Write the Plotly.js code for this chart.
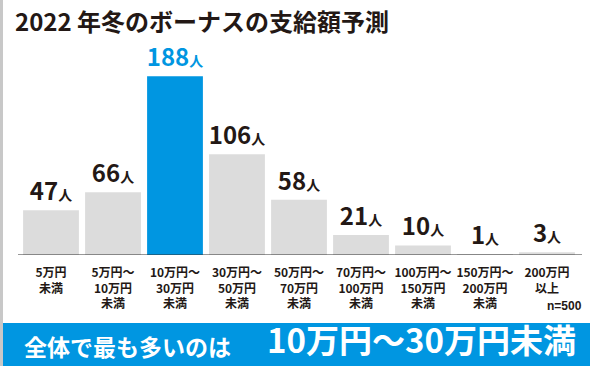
<!DOCTYPE html>
<html>
<head>
<meta charset="utf-8">
<script src="https://cdn.plot.ly/plotly-3.0.1.min.js"></script>
<style>
  html, body { margin: 0; padding: 0; background: #ffffff; }
  #chart { width: 590px; height: 366px; }
</style>
</head>
<body>
<div id="chart"></div>
<script>
// ---- data ----
const categories = ["5万円未満", "5万円～10万円未満", "10万円～30万円未満", "30万円～50万円未満",
  "50万円～70万円未満", "70万円～100万円未満", "100万円～150万円未満", "150万円～200万円未満", "200万円以上"];
const tickLabels = ["5万円<br>未満", "5万円～<br>10万円<br>未満", "10万円～<br>30万円<br>未満",
  "30万円～<br>50万円<br>未満", "50万円～<br>70万円<br>未満", "70万円～<br>100万円<br>未満",
  "100万円～<br>150万円<br>未満", "150万円～<br>200万円<br>未満", "200万円<br>以上"];
const counts = [47, 66, 188, 106, 58, 21, 10, 1, 3];
const unit = "人";
const titleText = "2022 年冬のボーナスの支給額予測";
const sampleNote = "n=500";
const bannerLead = "全体で最も多いのは";
const bannerMain = "10万円～30万円未満";

// ---- styles ----
const highlightIndex = 2;
const BLUE = "#0096E1";
const GRAY = "#DCDCDC";
const INK = "#231815";
const JP = "Noto Sans CJK JP";

// layout geometry (pixels)
const W = 590, H = 366;
const L = 20, R = 12, T = 60, B = 111;
const PW = W - L - R, PH = H - T - B;
const px2x = px => (px - L) / PW;
const px2y = py => (H - B - py) / PH;

const barColors = counts.map((_, i) => i === highlightIndex ? BLUE : GRAY);
const textColors = counts.map((_, i) => i === highlightIndex ? BLUE : INK);
const labels = counts.map(v => v + "<span style='font-size:14px'>" + unit + "</span>");

const trace = {
  type: "bar",
  x: categories,
  y: counts,
  marker: { color: barColors, line: { width: 0 } },
  text: labels,
  textposition: "outside",
  constraintext: "none",
  cliponaxis: false,
  textfont: { family: JP, size: 24, color: textColors, weight: "bold" },
  hoverinfo: "skip"
};

const layout = {
  width: W, height: H,
  margin: { l: L, r: R, t: T, b: B, pad: 0 },
  paper_bgcolor: "#ffffff",
  plot_bgcolor: "#ffffff",
  showlegend: false,
  bargap: 0.1,
  title: {
    text: titleText,
    font: { family: JP, size: 24, color: INK, weight: "bold" },
    x: 15 / W, xref: "container", xanchor: "left",
    y: 1 - 23 / H, yref: "container", yanchor: "middle"
  },
  xaxis: {
    type: "category",
    range: [-0.5, categories.length - 0.5],
    tickmode: "array",
    tickvals: categories,
    ticktext: tickLabels,
    tickfont: { family: JP, size: 12, color: INK, weight: "bold" },
    ticks: "",
    ticklabelstandoff: 9,
    showgrid: false, zeroline: false, showline: false,
    fixedrange: true
  },
  yaxis: {
    range: [0, 205],
    visible: false,
    showgrid: false, zeroline: false,
    fixedrange: true
  },
  shapes: [
    // left gray strip
    { type: "rect", xref: "paper", yref: "paper", x0: px2x(0), x1: px2x(3), y0: px2y(366), y1: px2y(0),
      fillcolor: "#C8C8C8", line: { width: 0 }, layer: "below" },
    // bottom banner
    { type: "rect", xref: "paper", yref: "paper", x0: px2x(3), x1: px2x(590), y0: px2y(366), y1: px2y(323),
      fillcolor: BLUE, line: { width: 0 }, layer: "above" },
    // baseline
    { type: "line", xref: "paper", yref: "y", x0: px2x(18), x1: px2x(582), y0: 0, y1: 0,
      line: { color: "#333333", width: 1.2 }, layer: "above" }
  ],
  annotations: [
    { text: sampleNote, xref: "paper", yref: "paper", x: px2x(584), y: px2y(306),
      xanchor: "right", yanchor: "middle", showarrow: false,
      font: { family: "Liberation Sans, " + JP, size: 12, color: INK, weight: "bold" } },
    { text: bannerLead, xref: "paper", yref: "paper", x: px2x(22), y: px2y(365),
      xanchor: "left", yanchor: "bottom", showarrow: false,
      font: { family: JP, size: 23, color: "#ffffff", weight: "bold" } },
    { text: bannerMain, xref: "paper", yref: "paper", x: px2x(578), y: px2y(365),
      xanchor: "right", yanchor: "bottom", showarrow: false,
      font: { family: JP, size: 33, color: "#ffffff", weight: "bold" } }
  ]
};

Plotly.newPlot("chart", [trace], layout, { displayModeBar: false, staticPlot: true });
</script>
</body>
</html>
